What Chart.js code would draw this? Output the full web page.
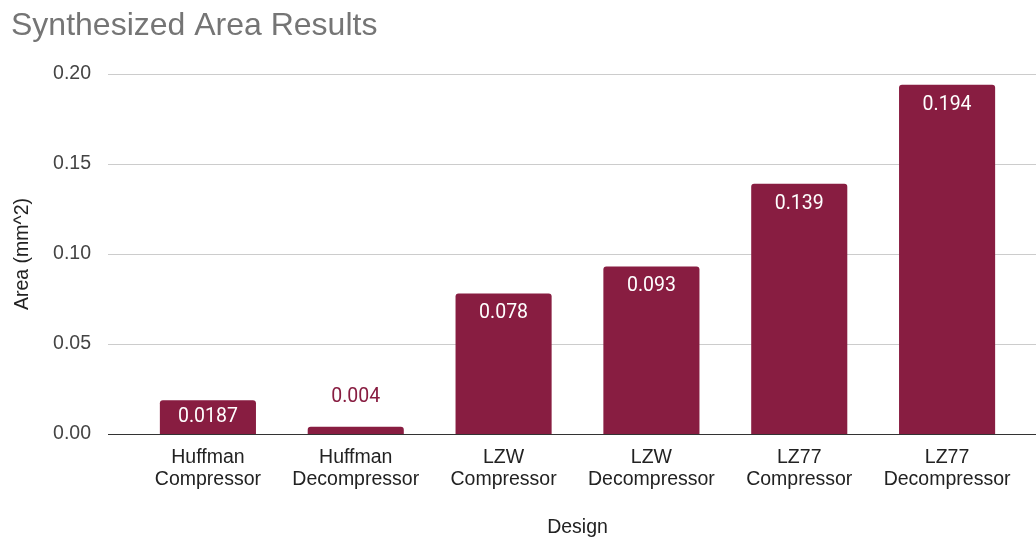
<!DOCTYPE html>
<html>
<head>
<meta charset="utf-8">
<title>Synthesized Area Results</title>
<script src="https://cdn.jsdelivr.net/npm/chart.js@4.4.1/dist/chart.umd.min.js"></script>
<style>
    html, body { margin: 0; padding: 0; background: #ffffff; }
    #area-chart { display: block; }
</style>
</head>
<body>
<canvas id="area-chart" width="1036" height="537"></canvas>
<script>
// Design names (two-line axis labels) and synthesized area in mm^2
const designs = [
    ['Huffman', 'Compressor'],
    ['Huffman', 'Decompressor'],
    ['LZW', 'Compressor'],
    ['LZW', 'Decompressor'],
    ['LZ77', 'Compressor'],
    ['LZ77', 'Decompressor']
];
const areaValues = [0.0187, 0.004, 0.078, 0.093, 0.139, 0.194];
const areaLabels = ['0.0187', '0.004', '0.078', '0.093', '0.139', '0.194'];
const yTicks = [0, 0.05, 0.10, 0.15, 0.20];

const BAR_COLOR = '#881d41';
const GRID_COLOR = '#cccccc';
const BASELINE_COLOR = '#333333';
const SANS = '"Liberation Sans", Arial, sans-serif';

// Horizontal gridlines run past the plot area, from the tick labels to the right edge
const gridLinesPlugin = {
    id: 'wideGridLines',
    beforeDatasetsDraw(chart) {
        const { ctx, chartArea, scales: { y } } = chart;
        ctx.save();
        ctx.lineWidth = 1;
        ctx.strokeStyle = GRID_COLOR;
        yTicks.forEach(v => {
            if (v === 0) return;
            const py = Math.round(y.getPixelForValue(v)) + 0.5;
            ctx.beginPath();
            ctx.moveTo(chartArea.left - 26, py);
            ctx.lineTo(chart.width, py);
            ctx.stroke();
        });
        ctx.restore();
    },
    afterDatasetsDraw(chart) {
        const { ctx, chartArea, scales: { y } } = chart;
        const py = Math.round(y.getPixelForValue(0)) + 0.5;
        ctx.save();
        ctx.lineWidth = 1;
        ctx.strokeStyle = BASELINE_COLOR;
        ctx.beginPath();
        ctx.moveTo(chartArea.left - 26, py);
        ctx.lineTo(chart.width, py);
        ctx.stroke();
        ctx.restore();
    }
};

// Value labels: near the top inside tall bars, centred in short ones, above tiny ones
const valueLabelsPlugin = {
    id: 'valueLabels',
    afterDatasetsDraw(chart) {
        const { ctx } = chart;
        const meta = chart.getDatasetMeta(0);
        ctx.save();
        ctx.font = '19.5px Roboto, "Liberation Sans", sans-serif';
        ctx.textAlign = 'center';
        ctx.textBaseline = 'middle';
        meta.data.forEach((bar, i) => {
            const h = bar.base - bar.y;
            let ty;
            if (h < 20) {
                ctx.fillStyle = BAR_COLOR;
                ty = bar.y - 30;
            } else if (h < 40) {
                ctx.fillStyle = '#ffffff';
                ty = bar.y + h / 2;
            } else {
                ctx.fillStyle = '#ffffff';
                ty = bar.y + 20;
            }
            ctx.fillText(areaLabels[i], bar.x, ty);
        });
        ctx.restore();
    }
};

const chart = new Chart(document.getElementById('area-chart'), {
    type: 'bar',
    data: {
        labels: designs,
        datasets: [{
            label: 'Area',
            data: areaValues,
            backgroundColor: BAR_COLOR,
            borderRadius: { topLeft: 3, topRight: 3 },
            borderSkipped: 'bottom',
            categoryPercentage: 1,
            barPercentage: 0.65
        }]
    },
    options: {
        responsive: false,
        devicePixelRatio: 1,
        animation: false,
        layout: { padding: { left: 11, right: 15, top: 0, bottom: 0 } },
        plugins: {
            legend: { display: false },
            tooltip: { enabled: false },
            title: {
                display: true,
                text: 'Synthesized Area Results',
                align: 'start',
                color: '#757575',
                font: { family: SANS, size: 32, weight: 'normal', lineHeight: 1.2 },
                padding: { top: 7, bottom: 28.6 }
            }
        },
        scales: {
            x: {
                grid: { display: false },
                border: { display: false },
                ticks: {
                    color: '#222222',
                    font: { family: SANS, size: 19.5, lineHeight: 1.1 },
                    padding: 5,
                    maxRotation: 0,
                    autoSkip: false
                },
                title: {
                    display: true,
                    text: 'Design',
                    color: '#222222',
                    font: { family: SANS, size: 19.5, lineHeight: 1.2 },
                    padding: { top: 0, bottom: -2 }
                },
                afterFit(scale) { scale.height = 103; }
            },
            y: {
                min: 0,
                max: 0.2,
                afterBuildTicks(scale) { scale.ticks = yTicks.map(v => ({ value: v })); },
                grid: { display: false },
                border: { display: false },
                ticks: {
                    color: '#444444',
                    font: { family: SANS, size: 19.5 },
                    padding: 35,
                    callback: v => Number(v).toFixed(2)
                },
                title: {
                    display: true,
                    text: 'Area (mm^2)',
                    color: '#222222',
                    font: { family: SANS, size: 19.5, lineHeight: 1.2 },
                    padding: { top: 0, bottom: 0 }
                },
                afterFit(scale) { scale.width = 123; }
            }
        }
    },
    plugins: [gridLinesPlugin, valueLabelsPlugin]
});
</script>
</body>
</html>
